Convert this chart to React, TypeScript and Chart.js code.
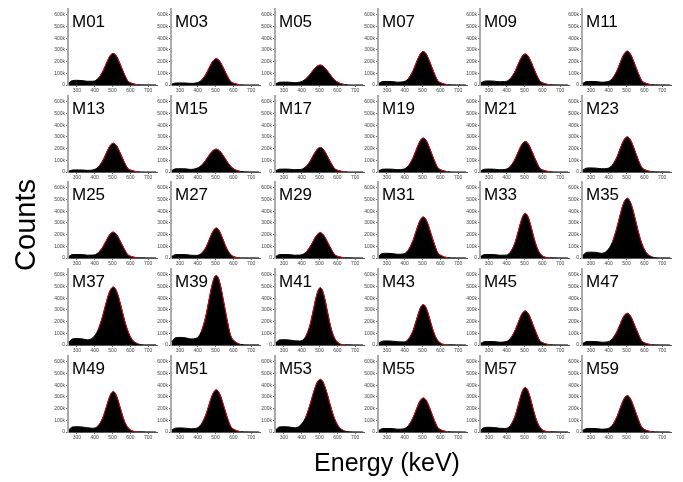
import React, { useEffect, useRef } from 'react';
import { Chart, registerables } from 'chart.js';

Chart.register(...registerables);

// ---------------- data ----------------
const energies = [255, 275, 300, 330, 360, 390, 420, 445, 465, 480, 493, 505, 517, 530, 545, 565, 585, 610, 640, 690, 745];

const detectorNames = [
  'M01', 'M03', 'M05', 'M07', 'M09', 'M11',
  'M13', 'M15', 'M17', 'M19', 'M21', 'M23',
  'M25', 'M27', 'M29', 'M31', 'M33', 'M35',
  'M37', 'M39', 'M41', 'M43', 'M45', 'M47',
  'M49', 'M51', 'M53', 'M55', 'M57', 'M59',
];

// counts in thousands
const M01 = [18, 38, 40, 38, 32, 32, 57, 114, 183, 233, 262, 270, 258, 225, 171, 98, 37, 13, 3, 1, 0];
const M03 = [8, 17, 18, 17, 14, 17, 39, 89, 148, 192, 217, 225, 215, 189, 143, 82, 30, 11, 2, 0, 0];
const M05 = [11, 24, 25, 24, 20, 25, 48, 88, 127, 152, 166, 170, 164, 147, 119, 78, 43, 17, 4, 0, 0];
const M07 = [14, 29, 30, 29, 24, 27, 53, 116, 190, 244, 276, 286, 273, 238, 181, 104, 38, 14, 3, 1, 0];
const M09 = [16, 33, 35, 33, 28, 29, 54, 110, 179, 228, 257, 265, 254, 221, 168, 96, 37, 13, 3, 1, 0];
const M11 = [14, 29, 30, 29, 24, 27, 54, 117, 192, 247, 279, 289, 276, 241, 183, 105, 39, 14, 3, 1, 0];
const M13 = [8, 17, 18, 17, 14, 18, 42, 96, 161, 209, 237, 246, 235, 206, 156, 89, 33, 12, 2, 0, 0];
const M15 = [13, 27, 28, 27, 22, 29, 55, 100, 145, 175, 190, 195, 187, 169, 137, 89, 49, 19, 5, 1, 0];
const M17 = [11, 24, 25, 24, 20, 21, 41, 86, 141, 179, 203, 210, 201, 174, 133, 76, 29, 11, 2, 0, 0];
const M19 = [11, 24, 25, 24, 20, 23, 51, 115, 191, 246, 280, 290, 278, 241, 183, 105, 39, 14, 3, 0, 0];
const M21 = [11, 24, 25, 24, 20, 22, 47, 104, 172, 221, 251, 260, 249, 216, 164, 94, 35, 13, 3, 0, 0];
const M23 = [16, 33, 35, 33, 28, 30, 58, 123, 201, 257, 290, 300, 287, 250, 190, 109, 41, 15, 3, 1, 0];
const M25 = [14, 29, 30, 29, 24, 25, 45, 93, 148, 190, 214, 221, 211, 184, 139, 81, 30, 11, 2, 1, 0];
const M27 = [14, 29, 30, 29, 24, 22, 38, 87, 156, 211, 245, 256, 242, 205, 147, 75, 30, 7, 1, 1, 0];
const M29 = [14, 29, 30, 29, 24, 25, 44, 91, 145, 186, 209, 216, 206, 180, 136, 79, 29, 11, 2, 1, 0];
const M31 = [18, 38, 40, 38, 32, 34, 67, 143, 233, 300, 339, 350, 335, 292, 221, 127, 47, 17, 3, 1, 0];
const M33 = [14, 29, 30, 29, 24, 24, 48, 123, 228, 312, 364, 381, 361, 306, 219, 111, 43, 10, 2, 1, 0];
const M35 = [23, 48, 50, 48, 40, 61, 132, 253, 373, 453, 497, 510, 492, 443, 358, 233, 128, 48, 11, 1, 1];
const M37 = [25, 52, 55, 52, 44, 63, 132, 248, 365, 441, 483, 495, 478, 430, 348, 226, 125, 46, 11, 1, 1];
const M39 = [29, 62, 65, 62, 52, 56, 113, 242, 396, 508, 575, 595, 569, 495, 376, 216, 81, 29, 5, 1, 1];
const M41 = [20, 43, 45, 43, 36, 34, 66, 161, 296, 402, 469, 490, 465, 393, 282, 143, 57, 13, 2, 1, 0];
const M43 = [16, 33, 35, 33, 28, 26, 48, 115, 209, 284, 331, 345, 328, 277, 198, 101, 40, 9, 2, 1, 0];
const M45 = [14, 29, 30, 29, 24, 27, 54, 118, 193, 249, 281, 291, 278, 243, 184, 106, 39, 14, 3, 1, 0];
const M47 = [14, 29, 30, 29, 24, 26, 52, 111, 180, 232, 262, 271, 259, 226, 171, 99, 37, 13, 3, 1, 0];
const M49 = [20, 43, 45, 43, 36, 32, 54, 119, 212, 285, 331, 345, 327, 276, 198, 101, 41, 10, 2, 1, 0];
const M51 = [16, 33, 35, 33, 28, 31, 66, 144, 239, 308, 348, 360, 345, 301, 228, 130, 49, 17, 3, 1, 0];
const M53 = [20, 43, 45, 43, 36, 54, 117, 224, 330, 399, 439, 450, 435, 390, 316, 206, 113, 42, 9, 1, 0];
const M55 = [14, 29, 30, 29, 24, 26, 53, 116, 191, 248, 280, 290, 279, 244, 186, 107, 40, 14, 3, 1, 0];
const M57 = [18, 38, 40, 38, 32, 30, 54, 127, 230, 313, 364, 380, 360, 305, 218, 111, 44, 10, 2, 1, 0];
const M59 = [14, 29, 30, 29, 24, 27, 57, 125, 206, 265, 300, 311, 297, 259, 197, 113, 42, 15, 3, 1, 0];

const spectra = [
  M01, M03, M05, M07, M09, M11,
  M13, M15, M17, M19, M21, M23,
  M25, M27, M29, M31, M33, M35,
  M37, M39, M41, M43, M45, M47,
  M49, M51, M53, M55, M57, M59,
];

const xTickValues = [300, 400, 500, 600, 700];
const yTickValues = [0, 100, 200, 300, 400, 500, 600];
const fitRange = [420, 640];

// ---------------- layout ----------------
const FONT = '"Liberation Sans", Arial, Helvetica, sans-serif';
const colAxisX = [68, 171, 275, 378, 480, 582];
const rowZeroY = [85, 172, 258, 345, 432];
const Y_SCALE_W = 24;
const X_SCALE_H = 12;
const PAD_TOP = 4;
const PLOT_W = 89;
const PLOT_H = 76;

function Panel({ name, counts, axisX, zeroY }: { name: string; counts: number[]; axisX: number; zeroY: number }) {
  const ref = useRef<HTMLCanvasElement>(null);
  useEffect(() => {
    const full = energies.map((e, i) => ({ x: e, y: counts[i] }));
    const fit = full.filter((p) => p.x >= fitRange[0] && p.x <= fitRange[1]);
    const labelPlugin = {
      id: 'panelLabel',
      afterDraw(chart: any) {
        const { ctx, chartArea } = chart;
        ctx.save();
        ctx.font = `17px ${FONT}`;
        ctx.fillStyle = '#000';
        ctx.textBaseline = 'alphabetic';
        ctx.textAlign = 'left';
        ctx.fillText(name, chartArea.left + 4, chartArea.bottom - 58);
        ctx.restore();
      },
    };
    const chart = new Chart(ref.current as HTMLCanvasElement, {
      type: 'line',
      data: {
        datasets: [
          {
            data: fit,
            borderColor: '#e0001a',
            borderWidth: 1,
            pointRadius: 0,
            fill: false,
            cubicInterpolationMode: 'monotone',
            order: 0,
          } as any,
          {
            data: full,
            borderColor: '#000',
            backgroundColor: '#000',
            borderWidth: 1,
            pointRadius: 0,
            fill: 'origin',
            cubicInterpolationMode: 'monotone',
            order: 1,
          } as any,
        ],
      },
      options: {
        responsive: false,
        maintainAspectRatio: false,
        animation: false,
        events: [],
        layout: { padding: { top: PAD_TOP, right: 2, left: 0, bottom: 0 } },
        plugins: { legend: { display: false }, tooltip: { enabled: false }, title: { display: false } },
        scales: {
          x: {
            type: 'linear',
            min: 250,
            max: 750,
            afterBuildTicks: (s: any) => {
              s.ticks = xTickValues.map((v) => ({ value: v }));
            },
            afterFit: (s: any) => {
              s.height = X_SCALE_H;
            },
            grid: { drawOnChartArea: false, drawTicks: true, tickLength: 2, color: '#666' },
            border: { display: true, color: '#555', width: 1 },
            ticks: { font: { size: 5, family: FONT }, color: '#444', padding: 1, maxRotation: 0, autoSkip: false },
          },
          y: {
            min: 0,
            max: 650,
            afterBuildTicks: (s: any) => {
              s.ticks = yTickValues.map((v) => ({ value: v }));
            },
            afterFit: (s: any) => {
              s.width = Y_SCALE_W;
            },
            grid: { drawOnChartArea: false, drawTicks: true, tickLength: 2, color: '#666' },
            border: { display: true, color: '#aaa', width: 2 },
            ticks: {
              font: { size: 5, family: FONT },
              color: '#444',
              padding: 1,
              autoSkip: false,
              callback: (v: any) => (v === 0 ? '0' : `${v}k`),
            },
          },
        },
      },
      plugins: [labelPlugin],
    } as any);
    return () => chart.destroy();
  }, [name, counts]);

  const w = Y_SCALE_W + PLOT_W + 2;
  const h = PAD_TOP + PLOT_H + X_SCALE_H;
  return (
    <canvas
      ref={ref}
      width={w}
      height={h}
      style={{ position: 'absolute', left: axisX - Y_SCALE_W, top: zeroY - PLOT_H - PAD_TOP, width: w, height: h }}
    />
  );
}

export default function App() {
  return (
    <div style={{ position: 'absolute', left: 0, top: 0, width: 683, height: 482, background: '#fff', overflow: 'hidden' }}>
      {detectorNames.map((name, i) => (
        <Panel
          key={name}
          name={name}
          counts={spectra[i]}
          axisX={colAxisX[i % 6]}
          zeroY={rowZeroY[Math.floor(i / 6)]}
        />
      ))}
      <div
        style={{
          position: 'absolute',
          left: 25,
          top: 225,
          transform: 'translate(-50%, -50%) rotate(-90deg)',
          fontFamily: FONT,
          fontSize: 29,
          whiteSpace: 'nowrap',
          color: '#000',
        }}
      >
        Counts
      </div>
      <div
        style={{
          position: 'absolute',
          left: 387,
          top: 448,
          transform: 'translateX(-50%)',
          fontFamily: FONT,
          fontSize: 25,
          whiteSpace: 'nowrap',
          color: '#000',
        }}
      >
        Energy (keV)
      </div>
    </div>
  );
}
